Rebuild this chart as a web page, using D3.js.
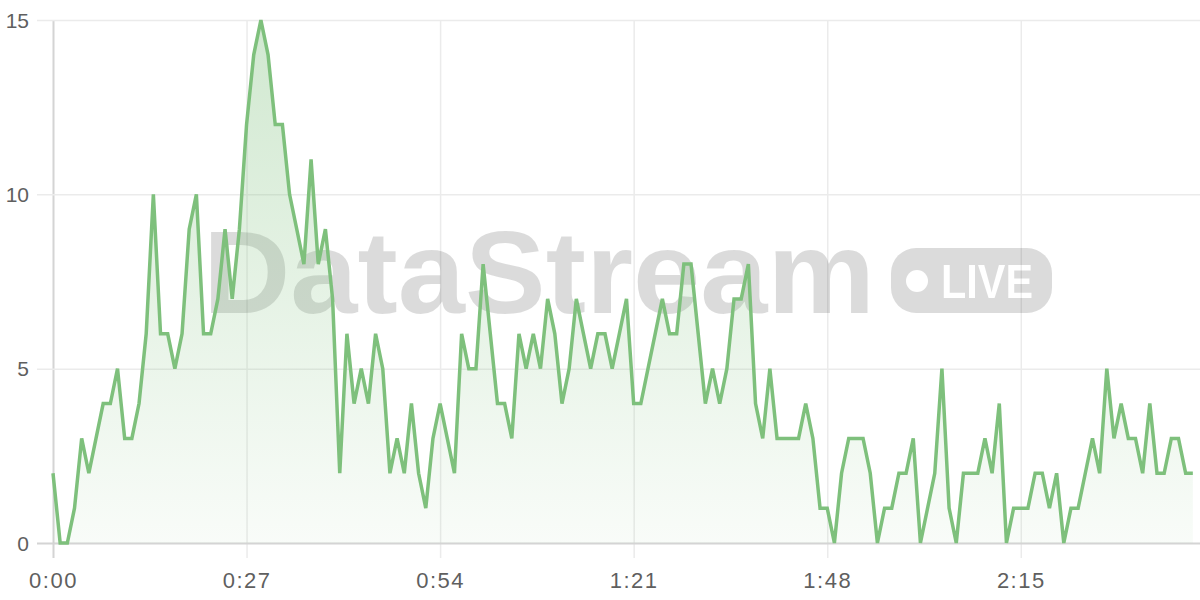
<!DOCTYPE html>
<html>
<head>
  <style>
    body {
      margin: 0;
      background: #fff;
    }
    text {
      font-family: "Helvetica Neue", Helvetica, "Liberation Sans", Arial, sans-serif;
    }
    .tick text {
      fill: #5f5f5f;
      font-size: 21px;
    }
  </style>
</head>
<body>
  <script src="https://cdnjs.cloudflare.com/ajax/libs/d3/7.8.5/d3.min.js"></script>
  <script>
    var width = 1200, height = 600;

    // events per second, one value per second from 0:00
    var counts = [
      2, 0, 0, 1, 3, 2, 3, 4, 4, 5,
      3, 3, 4, 6, 10, 6, 6, 5, 6, 9,
      10, 6, 6, 7, 9, 7, 9, 12, 14, 15,
      14, 12, 12, 10, 9, 8, 11, 8, 9, 7,
      2, 6, 4, 5, 4, 6, 5, 2, 3, 2,
      4, 2, 1, 3, 4, 3, 2, 6, 5, 5,
      8, 6, 4, 4, 3, 6, 5, 6, 5, 7,
      6, 4, 5, 7, 6, 5, 6, 6, 5, 6,
      7, 4, 4, 5, 6, 7, 6, 6, 8, 8,
      6, 4, 5, 4, 5, 7, 7, 8, 4, 3,
      5, 3, 3, 3, 3, 4, 3, 1, 1, 0,
      2, 3, 3, 3, 2, 0, 1, 1, 2, 2,
      3, 0, 1, 2, 5, 1, 0, 2, 2, 2,
      3, 2, 4, 0, 1, 1, 1, 2, 2, 1,
      2, 0, 1, 1, 2, 3, 2, 5, 3, 4,
      3, 3, 2, 4, 2, 2, 3, 3, 2, 2
    ];
    var xTicks = [0, 27, 54, 81, 108, 135];
    var xTickLabels = ["0:00", "0:27", "0:54", "1:21", "1:48", "2:15"];
    var yTicks = [0, 5, 10, 15];

    var green = "#7ec07c";

    var x = d3.scaleLinear().domain([0, 160]).range([53, 1200]);
    var y = d3.scaleLinear().domain([0, 15]).range([543, 20]);

    var svg = d3.select("body").append("svg")
        .attr("width", width)
        .attr("height", height);

    var defs = svg.append("defs");

    var grad = defs.append("linearGradient")
        .attr("id", "fill")
        .attr("gradientUnits", "userSpaceOnUse")
        .attr("x1", 0).attr("y1", y(15))
        .attr("x2", 0).attr("y2", y(0));
    grad.append("stop").attr("offset", 0).attr("stop-color", green).attr("stop-opacity", 0.36);
    grad.append("stop").attr("offset", 1).attr("stop-color", green).attr("stop-opacity", 0.05);

    // grid: x axis placed 15px under the plot so tick lines run through it
    var xAxis = svg.append("g")
        .attr("transform", "translate(0," + (y(0) + 15) + ")")
        .call(d3.axisBottom(x)
          .tickValues(xTicks)
          .tickFormat((d, i) => xTickLabels[i])
          .tickSize(-(y(0) + 15 - y(15)))
          .tickPadding(14));
    xAxis.select(".domain").remove();
    xAxis.selectAll(".tick line")
        .attr("stroke", (d, i) => i === 0 ? "#d4d4d4" : "#ebebeb")
        .attr("stroke-width", (d, i) => i === 0 ? 2 : 1.5);
    xAxis.selectAll(".tick text")
        .style("font-size", "22px")
        .attr("letter-spacing", "1.5px");

    var yAxis = svg.append("g")
        .attr("transform", "translate(37,0)")
        .call(d3.axisLeft(y)
          .tickValues(yTicks)
          .tickSize(-(width - 37))
          .tickPadding(8));
    yAxis.select(".domain").remove();
    yAxis.selectAll(".tick line")
        .attr("stroke", d => d === 0 ? "#d4d4d4" : "#ebebeb")
        .attr("stroke-width", d => d === 0 ? 2 : 1.5);
    yAxis.selectAll(".tick text").attr("dy", "0.34em");
    yAxis.selectAll(".tick").filter(d => d === 0).raise();

    // watermark
    var mask = defs.append("mask").attr("id", "badge-mask");
    mask.append("rect").attr("x", 0).attr("y", 0).attr("width", width).attr("height", height).attr("fill", "#fff");
    mask.append("circle").attr("cx", 917).attr("cy", 281).attr("r", 11).attr("fill", "#000");
    mask.append("text")
        .attr("x", 941).attr("y", 298)
        .attr("font-size", 48)
        .attr("font-weight", 600)
        .attr("textLength", 92)
        .attr("lengthAdjust", "spacingAndGlyphs")
        .attr("fill", "#000")
        .text("LIVE");

    var mark = svg.append("g").attr("fill", "rgba(0,0,0,0.14)");
    mark.append("text")
        .attr("x", 203).attr("y", 313)
        .attr("font-size", 117)
        .attr("font-weight", 700)
        .attr("textLength", 672)
        .attr("lengthAdjust", "spacingAndGlyphs")
        .text("DataStream");
    mark.append("rect")
        .attr("x", 891).attr("y", 248)
        .attr("width", 161).attr("height", 65)
        .attr("rx", 25)
        .attr("mask", "url(#badge-mask)");

    // series
    var area = d3.area()
        .x((d, i) => x(i))
        .y0(y(0))
        .y1(d => y(d));

    var line = d3.line()
        .x((d, i) => x(i))
        .y(d => y(d));

    svg.append("path")
        .datum(counts)
        .attr("fill", "url(#fill)")
        .attr("d", area);

    svg.append("path")
        .datum(counts)
        .attr("fill", "none")
        .attr("stroke", green)
        .attr("stroke-width", 3.5)
        .attr("stroke-linejoin", "miter")
        .attr("d", line);
  </script>
</body>
</html>
